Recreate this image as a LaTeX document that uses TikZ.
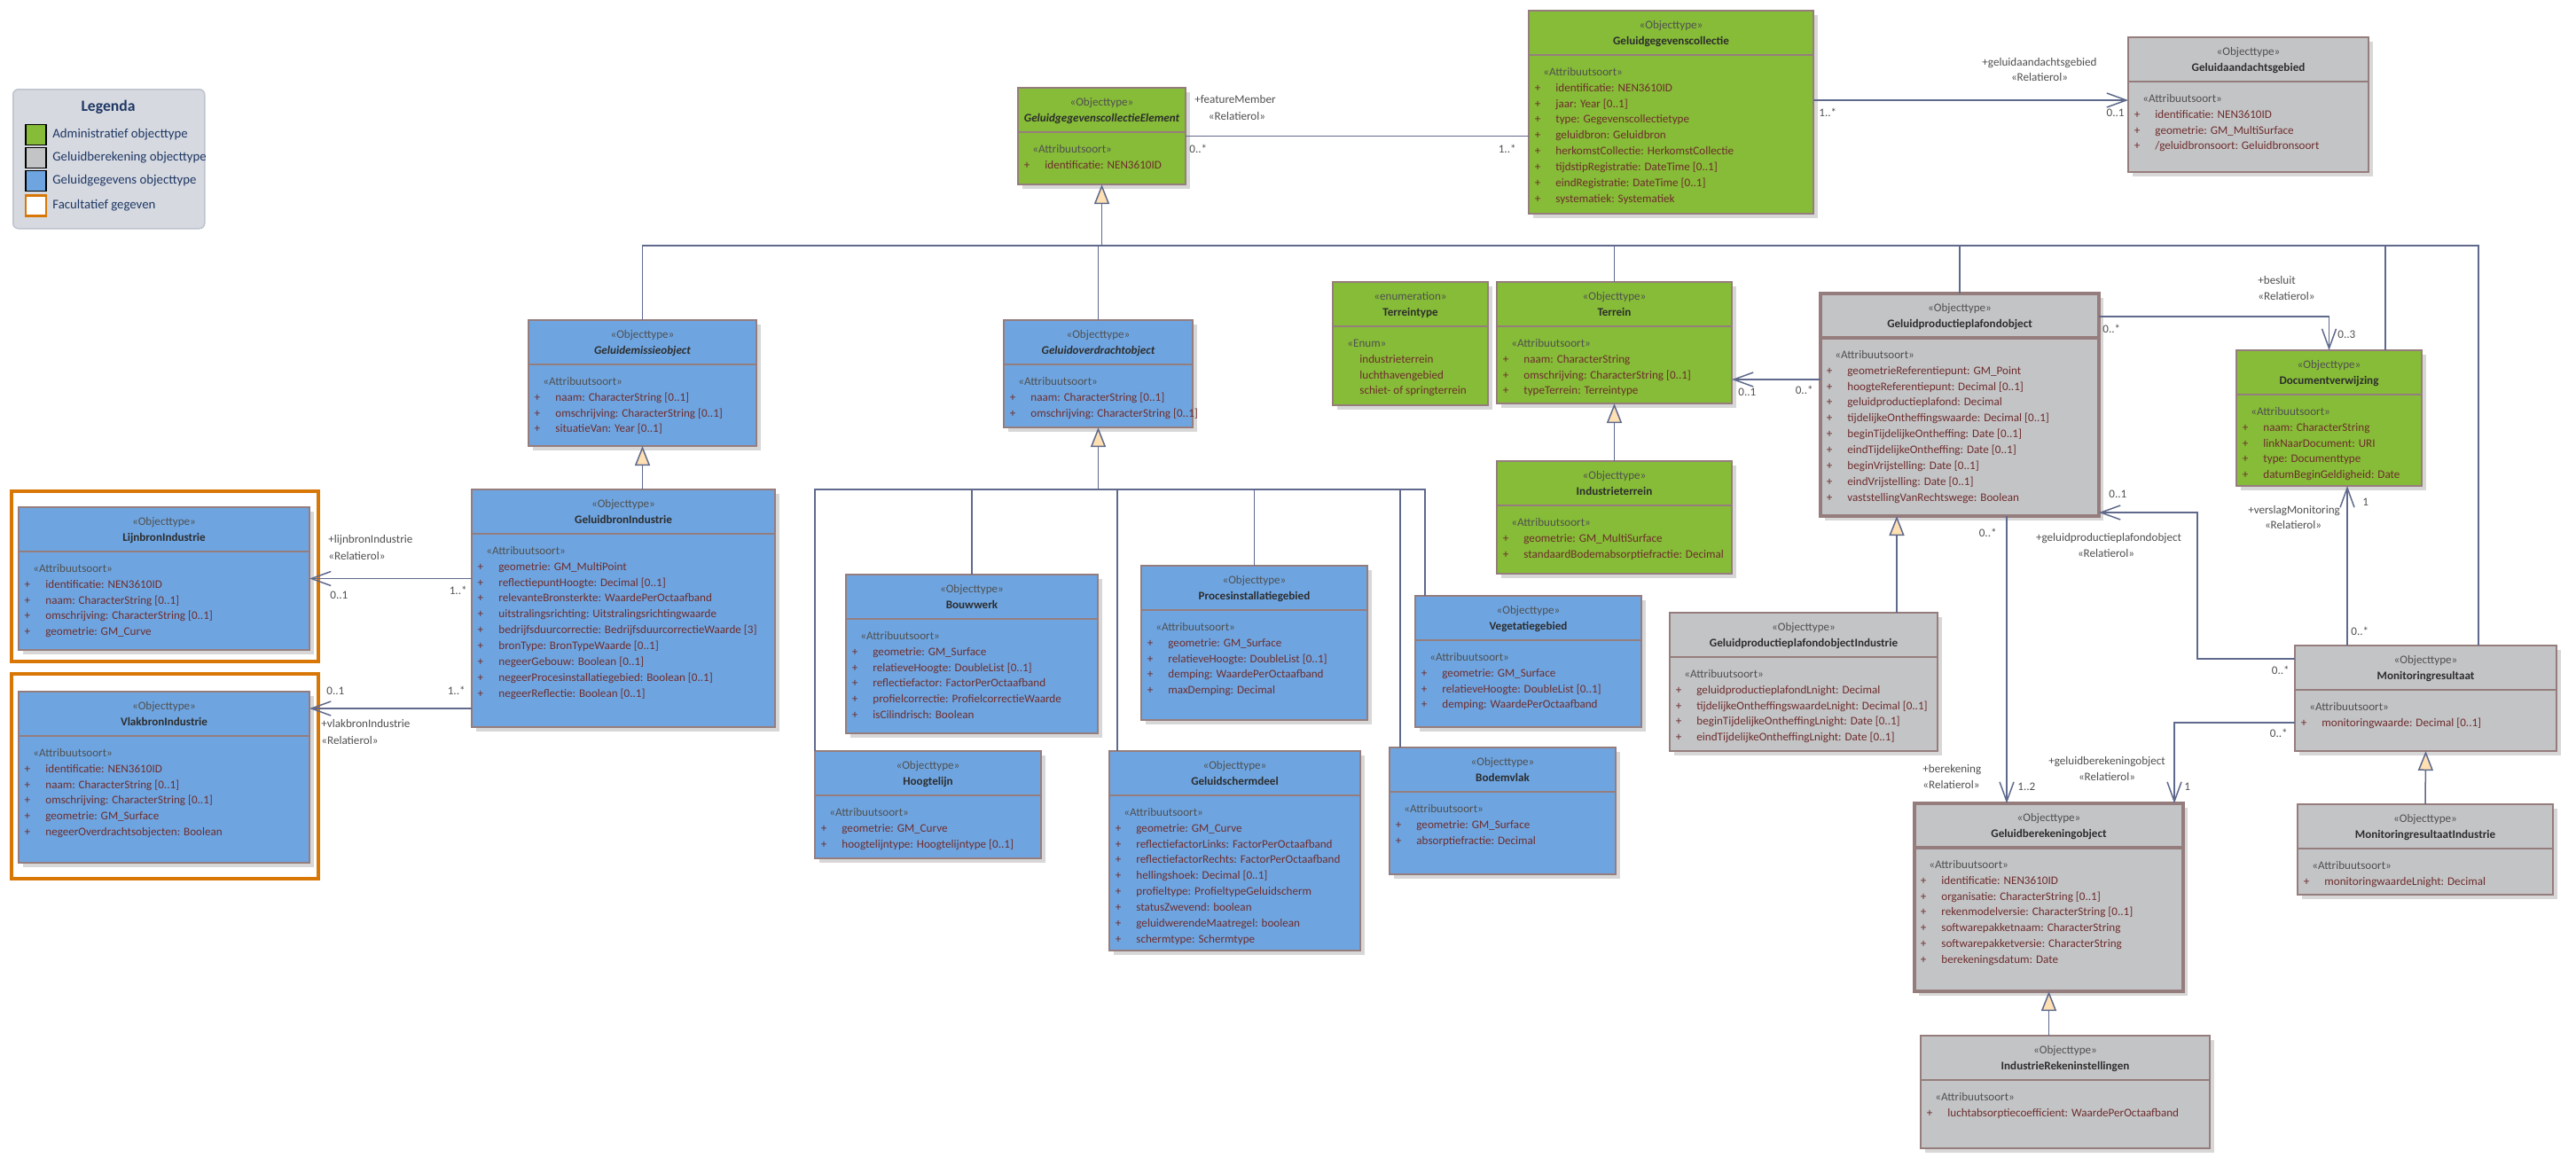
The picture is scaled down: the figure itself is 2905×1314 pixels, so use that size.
\documentclass[tikz,border=0pt]{standalone}
\usepackage{fontspec}
\setmainfont{Carlito}
\usetikzlibrary{arrows.meta}
\definecolor{cgreen}{RGB}{134,188,55}
\definecolor{cgray}{RGB}{195,196,198}
\definecolor{cblue}{RGB}{110,165,225}
\definecolor{cborder}{RGB}{150,125,125}
\definecolor{cshadow}{RGB}{215,215,215}
\definecolor{cline}{RGB}{95,105,140}
\definecolor{ctri}{RGB}{255,224,178}
\definecolor{cattr}{RGB}{110,45,45}
\definecolor{cstereo}{RGB}{80,80,80}
\definecolor{ctitle}{RGB}{45,45,45}
\definecolor{corange}{RGB}{217,119,6}
\definecolor{clegbg}{RGB}{214,217,224}
\definecolor{clegbd}{RGB}{190,195,205}
\definecolor{clegtx}{RGB}{30,55,100}
\tikzset{
  classbox/.style={draw=cborder, line width=0.8pt, rectangle, inner sep=0pt, outer sep=0pt},
  greenb/.style={line width=1.2pt},
  thickb/.style={line width=1.6pt},
  shadowc/.style={fill=cshadow},
  txt/.style={font=\fontsize{6.55}{7.5}\selectfont, inner sep=0pt, text height=4.6pt, text depth=1.4pt},
  stereo/.style={txt, text=cstereo},
  ctitle/.style={txt, font=\fontsize{6.55}{7.5}\selectfont\bfseries, text=ctitle},
  attr/.style={txt, text=cattr},
  lbl/.style={txt, text=cstereo},
  legtx/.style={font=\fontsize{7.4}{8}\selectfont, text=clegtx, inner sep=0pt},
  conn/.style={draw=cline, line width=0.75pt},
  assoc/.style={conn, -{Straight Barb[length=11pt,width=8pt]}},
  gen/.style={conn, -{Triangle[length=11pt,width=8.5pt,fill=ctri]}},
}
\def\curstereo{Objecttype}
\newcommand\umlclass[8][]{%
  \fill[shadowc] (#3+5,#4+5) rectangle (#5+5,#6+5);
  \node[classbox,#1,fill=#7,minimum width={(#5-#3)*0.5pt},minimum height={(#6-#4)*0.5pt},anchor=north west] (#2) at (#3,#4) {};
  \draw[classbox,#1] (#3,#4+50) -- (#5,#4+50);
  \node[stereo] (#2-s) at ({(#3+#5)/2},#4+17) {«\curstereo»};
  \node[ctitle] (#2-t) at ({(#3+#5)/2},#4+35) {#8};
}
\newcommand\attrs[4]{%
  \node[stereo,anchor=west] (#1-st) at (#2+16,#3+70) {«Attribuutsoort»};
  \foreach \aval [count=\aidx] in {#4} {
    \node[attr] (#1-p\aidx) at (#2+10,#3+70+17.9*\aidx) {+};
    \node[attr,anchor=west] (#1-a\aidx) at (#2+30,#3+70+17.9*\aidx) {\aval};
  }
}
\newcounter{lbc}
\newcommand\lbl[3][center]{\stepcounter{lbc}\node[lbl,anchor=#1] (lab\arabic{lbc}) at (#2) {#3};}
\begin{document}
\begin{tikzpicture}[x=0.5pt,y=-0.5pt]
\fill[white] (0,0) rectangle (2905,1314);
\useasboundingbox (0,0) rectangle (2905,1314);

% Legend
\node[draw=clegbd, fill=clegbg, line width=0.75pt, rounded corners=3pt, minimum width=108pt, minimum height=78.5pt, anchor=north west, inner sep=0pt] (legend) at (14,100) {};
\node[font=\fontsize{8.8}{10}\selectfont\bfseries, text=clegtx, inner sep=0pt] (legt) at (122,121) {Legenda};
\node[draw=black, line width=0.75pt, fill=cgreen, minimum size=11.5pt, inner sep=0pt] (sw1) at (40.5,152) {};
\node[draw=black, line width=0.75pt, fill=cgray, minimum size=11.5pt, inner sep=0pt] (sw2) at (40.5,178) {};
\node[draw=black, line width=0.75pt, fill=cblue, minimum size=11.5pt, inner sep=0pt] (sw3) at (40.5,204) {};
\node[draw=corange, line width=1.25pt, fill=white, minimum size=11.5pt, inner sep=0pt] (sw4) at (40.5,232) {};
\node[legtx, anchor=west] (lt1) at (59,152) {Administratief objecttype};
\node[legtx, anchor=west] (lt2) at (59,178) {Geluidberekening objecttype};
\node[legtx, anchor=west] (lt3) at (59,204) {Geluidgegevens objecttype};
\node[legtx, anchor=west] (lt4) at (59,232) {Facultatief gegeven};

% optional frames
\draw[corange, line width=2pt] (13,554) rectangle (359,746);
\draw[corange, line width=2pt] (13,760) rectangle (359,991);

% Classes
\umlclass[greenb]{ggce}{1148}{99}{1337}{208}{cgreen}{\itshape GeluidgegevenscollectieElement}
\attrs{ggce}{1148}{99}{identificatie: NEN3610ID}

\umlclass[greenb]{ggc}{1724}{12}{2045}{241}{cgreen}{Geluidgegevenscollectie}
\attrs{ggc}{1724}{12}{identificatie: NEN3610ID, jaar: Year [0..1], type: Gegevenscollectietype, geluidbron: Geluidbron, herkomstCollectie: HerkomstCollectie, tijdstipRegistratie: DateTime [0..1], eindRegistratie: DateTime [0..1], systematiek: Systematiek}

\umlclass{gag}{2400}{42}{2671}{194}{cgray}{Geluidaandachtsgebied}
\attrs{gag}{2400}{42}{identificatie: NEN3610ID, geometrie: GM\_MultiSurface, /geluidbronsoort: Geluidbronsoort}

\umlclass{geo}{596}{361}{853}{503}{cblue}{\itshape Geluidemissieobject}
\attrs{geo}{596}{361}{naam: CharacterString [0..1], omschrijving: CharacterString [0..1], situatieVan: Year [0..1]}

\umlclass{gov}{1132}{361}{1345}{482}{cblue}{\itshape Geluidoverdrachtobject}
\attrs{gov}{1132}{361}{naam: CharacterString [0..1], omschrijving: CharacterString [0..1]}

\def\curstereo{enumeration}
\umlclass[greenb]{ttype}{1503}{318}{1678}{457}{cgreen}{Terreintype}
\def\curstereo{Objecttype}
\node[stereo,anchor=west] (ttype-st) at (1519,388) {«Enum»};
\foreach \aval [count=\aidx] in {industrieterrein, luchthavengebied, schiet- of springterrein}
  \node[attr,anchor=west] (ttype-a\aidx) at (1533,388+17.9*\aidx) {\aval};

\umlclass[greenb]{terrein}{1688}{318}{1953}{455}{cgreen}{Terrein}
\attrs{terrein}{1688}{318}{naam: CharacterString, omschrijving: CharacterString [0..1], typeTerrein: Terreintype}

\umlclass[greenb]{indter}{1688}{520}{1953}{647}{cgreen}{Industrieterrein}
\attrs{indter}{1688}{520}{geometrie: GM\_MultiSurface, standaardBodemabsorptiefractie: Decimal}

\umlclass[thickb]{gppo}{2053}{331}{2367}{582}{cgray}{Geluidproductieplafondobject}
\attrs{gppo}{2053}{331}{geometrieReferentiepunt: GM\_Point, hoogteReferentiepunt: Decimal [0..1], geluidproductieplafond: Decimal, tijdelijkeOntheffingswaarde: Decimal [0..1], beginTijdelijkeOntheffing: Date [0..1], eindTijdelijkeOntheffing: Date [0..1], beginVrijstelling: Date [0..1], eindVrijstelling: Date [0..1], vaststellingVanRechtswege: Boolean}

\umlclass[greenb]{docv}{2522}{395}{2731}{548}{cgreen}{Documentverwijzing}
\attrs{docv}{2522}{395}{naam: CharacterString, linkNaarDocument: URI, type: Documenttype, datumBeginGeldigheid: Date}

\umlclass{lijnbron}{21}{572}{349}{733}{cblue}{LijnbronIndustrie}
\attrs{lijnbron}{21}{572}{identificatie: NEN3610ID, naam: CharacterString [0..1], omschrijving: CharacterString [0..1], geometrie: GM\_Curve}

\umlclass{vlakbron}{21}{780}{349}{973}{cblue}{VlakbronIndustrie}
\attrs{vlakbron}{21}{780}{identificatie: NEN3610ID, naam: CharacterString [0..1], omschrijving: CharacterString [0..1], geometrie: GM\_Surface, negeerOverdrachtsobjecten: Boolean}

\umlclass{gbi}{532}{552}{874}{820}{cblue}{GeluidbronIndustrie}
\attrs{gbi}{532}{552}{geometrie: GM\_MultiPoint, reflectiepuntHoogte: Decimal [0..1], relevanteBronsterkte: WaardePerOctaafband, uitstralingsrichting: Uitstralingsrichtingwaarde, bedrijfsduurcorrectie: BedrijfsduurcorrectieWaarde [3], bronType: BronTypeWaarde [0..1], negeerGebouw: Boolean [0..1], negeerProcesinstallatiegebied: Boolean [0..1], negeerReflectie: Boolean [0..1]}

\umlclass{bouwwerk}{954}{648}{1238}{827}{cblue}{Bouwwerk}
\attrs{bouwwerk}{954}{648}{geometrie: GM\_Surface, relatieveHoogte: DoubleList [0..1], reflectiefactor: FactorPerOctaafband, profielcorrectie: ProfielcorrectieWaarde, isCilindrisch: Boolean}

\umlclass{procinst}{1287}{638}{1542}{812}{cblue}{Procesinstallatiegebied}
\attrs{procinst}{1287}{638}{geometrie: GM\_Surface, relatieveHoogte: DoubleList [0..1], demping: WaardePerOctaafband, maxDemping: Decimal}

\umlclass{veget}{1596}{672}{1851}{820}{cblue}{Vegetatiegebied}
\attrs{veget}{1596}{672}{geometrie: GM\_Surface, relatieveHoogte: DoubleList [0..1], demping: WaardePerOctaafband}

\umlclass{hoogtelijn}{919}{847}{1174}{968}{cblue}{Hoogtelijn}
\attrs{hoogtelijn}{919}{847}{geometrie: GM\_Curve, hoogtelijntype: Hoogtelijntype [0..1]}

\umlclass{gscherm}{1251}{847}{1534}{1072}{cblue}{Geluidschermdeel}
\attrs{gscherm}{1251}{847}{geometrie: GM\_Curve, reflectiefactorLinks: FactorPerOctaafband, reflectiefactorRechts: FactorPerOctaafband, hellingshoek: Decimal [0..1], profieltype: ProfieltypeGeluidscherm, statusZwevend: boolean, geluidwerendeMaatregel: boolean, schermtype: Schermtype}

\umlclass{bodemvlak}{1567}{843}{1822}{986}{cblue}{Bodemvlak}
\attrs{bodemvlak}{1567}{843}{geometrie: GM\_Surface, absorptiefractie: Decimal}

\umlclass{gppoi}{1883}{691}{2185}{847}{cgray}{GeluidproductieplafondobjectIndustrie}
\attrs{gppoi}{1883}{691}{geluidproductieplafondLnight: Decimal, tijdelijkeOntheffingswaardeLnight: Decimal [0..1], beginTijdelijkeOntheffingLnight: Date [0..1], eindTijdelijkeOntheffingLnight: Date [0..1]}

\umlclass{monres}{2588}{728}{2883}{847}{cgray}{Monitoringresultaat}
\attrs{monres}{2588}{728}{monitoringwaarde: Decimal [0..1]}

\umlclass{mri}{2591}{907}{2879}{1009}{cgray}{MonitoringresultaatIndustrie}
\attrs{mri}{2591}{907}{monitoringwaardeLnight: Decimal}

\umlclass[thickb]{gbo}{2159}{906}{2462}{1118}{cgray}{Geluidberekeningobject}
\attrs{gbo}{2159}{906}{identificatie: NEN3610ID, organisatie: CharacterString [0..1], rekenmodelversie: CharacterString [0..1], softwarepakketnaam: CharacterString, softwarepakketversie: CharacterString, berekeningsdatum: Date}

\umlclass{iri}{2166}{1168}{2492}{1295}{cgray}{IndustrieRekeninstellingen}
\attrs{iri}{2166}{1168}{luchtabsorptiecoefficient: WaardePerOctaafband}

% ---------- connectors ----------
% featureMember
\draw[conn] (ggce.east) -- (ggce.east -| ggc.west);
\lbl[west]{1347,113}{+featureMember}
\lbl{1395,132}{«Relatierol»}
\lbl[west]{1341,169}{0..*}
\lbl[east]{1710,169}{1..*}

% geluidaandachtsgebied
\coordinate (gagIn) at ([yshift=2.5pt]gag.west);
\draw[assoc] (gagIn -| ggc.east) -- (gagIn);
\lbl{2300,71}{+geluidaandachtsgebied}
\lbl{2300,88}{«Relatierol»}
\lbl[west]{2051,128}{1..*}
\lbl[east]{2396,128}{0..1}

% generalisation tree to GeluidgegevenscollectieElement
\coordinate (busA) at (1243,277);
\coordinate (monT) at ([xshift=29.75pt]monres.north);
\coordinate (docvT) at ([xshift=31.75pt]docv.north);
\draw[gen] (ggce.south |- busA) -- (ggce.south);
\draw[conn] (geo.north) -- (geo.north |- busA) -- (monT |- busA) -- (monT);
\draw[conn] (gov.north) -- (gov.north |- busA);
\draw[conn] (terrein.north) -- (terrein.north |- busA);
\draw[conn] (gppo.north) -- (gppo.north |- busA);
\draw[conn] (docvT) -- (docvT |- busA);

% Geluidemissieobject
\draw[gen] (geo.south |- gbi.north) -- (geo.south);

% Geluidoverdrachtobject tree
\coordinate (busB) at (1242,552);
\coordinate (vegT) at ([xshift=5.5pt]veget.north west);
\coordinate (gschT) at ([xshift=4.5pt]gscherm.north west);
\coordinate (bodT) at ([xshift=6pt]bodemvlak.north west);
\draw[gen] (gov.south |- busB) -- (gov.south);
\draw[conn] (hoogtelijn.north west) -- (hoogtelijn.north west |- busB) -- (vegT |- busB) -- (vegT);
\draw[conn] (bouwwerk.north) -- (bouwwerk.north |- busB);
\draw[conn] (gschT) -- (gschT |- busB);
\draw[conn] (procinst.north) -- (procinst.north |- busB);
\draw[conn] (bodT) -- (bodT |- busB);

% Terrein
\draw[gen] (indter.north) -- (terrein.south);
\coordinate (terIn) at ([yshift=-20.75pt]terrein.east);
\draw[assoc] (terIn -| gppo.west) -- (terIn);
\lbl[west]{1960,443}{0..1}
\lbl[east]{2045,441}{0..*}

% besluit
\coordinate (gppoB) at ([yshift=49.75pt]gppo.east);
\draw[assoc] (gppoB) -| (docv.north);
\lbl[west]{2546,317}{+besluit}
\lbl[west]{2546,335}{«Relatierol»}
\lbl[west]{2371,372}{0..*}
\lbl[west]{2636,378}{0..3}

% verslagMonitoring
\coordinate (monV) at ([xshift=-44.25pt]monres.north);
\draw[assoc] (monV) -- (monV |- docv.south);
\lbl[west]{2664,567}{1}
\lbl{2587,576}{+verslagMonitoring}
\lbl{2586,593}{«Relatierol»}
\lbl[west]{2651,713}{0..*}

% geluidproductieplafondobject
\coordinate (monG) at ([yshift=22.25pt]monres.west);
\coordinate (gpk) at (2478,578);
\draw[assoc] (monG) -| (gpk) -- (gpk -| gppo.east);
\lbl[west]{2378,558}{0..1}
\lbl{2378,607}{+geluidproductieplafondobject}
\lbl{2375,625}{«Relatierol»}
\lbl[east]{2582,757}{0..*}

% berekening
\coordinate (gppoK) at ([xshift=26.5pt]gppo.south);
\draw[assoc] (gppoK) -- (gppoK |- gbo.north);
\lbl[east]{2252,602}{0..*}
\lbl[west]{2168,868}{+berekening}
\lbl[west]{2168,886}{«Relatierol»}
\lbl[west]{2275,888}{1..2}

% geluidberekeningobject
\coordinate (monB) at ([yshift=-13.75pt]monres.west);
\coordinate (gboT) at ([xshift=-5pt]gbo.north east);
\draw[assoc] (monB) -| (gboT);
\lbl[west]{2463,888}{1}
\lbl[east]{2580,828}{0..*}
\lbl{2376,859}{+geluidberekeningobject}
\lbl{2376,877}{«Relatierol»}

% generalisations right
\draw[gen] (mri.north) -- (monres.south);
\coordinate (gppoT) at ([xshift=-35.5pt]gppo.south);
\draw[gen] (gppoT |- gppoi.north) -- (gppoT);
\draw[gen] (gbo.south |- iri.north) -- (gbo.south);

% lijnbron / vlakbron
\draw[assoc] (lijnbron.east -| gbi.west) -- (lijnbron.east);
\lbl[west]{370,609}{+lijnbronIndustrie}
\lbl[west]{370,628}{«Relatierol»}
\lbl[west]{372,672}{0..1}
\lbl[east]{527,667}{1..*}
\coordinate (vlakIn) at ([yshift=38.75pt]vlakbron.east);
\draw[assoc] (vlakIn -| gbi.west) -- (vlakIn);
\lbl[west]{368,780}{0..1}
\lbl[east]{525,780}{1..*}
\lbl[west]{362,817}{+vlakbronIndustrie}
\lbl[west]{362,836}{«Relatierol»}
\end{tikzpicture}
\end{document}
